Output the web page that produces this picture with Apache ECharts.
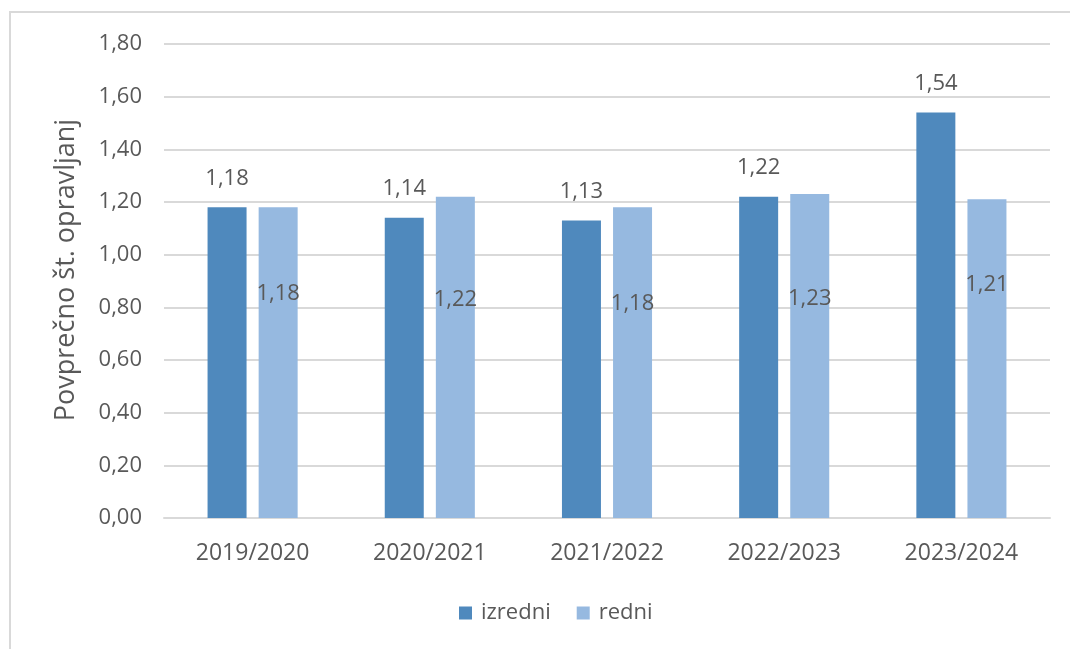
<!DOCTYPE html>
<html>
<head>
<meta charset="utf-8">
<script src="https://cdn.jsdelivr.net/npm/echarts@6/dist/echarts.min.js"></script>
<style>
    html, body { margin: 0; padding: 0; background: #fff; overflow: hidden; }
    #frame { position: absolute; left: 9px; top: 11px; width: 1200px; height: 800px; border: 2px solid #d9d9d9; box-sizing: border-box; }
    #chart { position: absolute; left: 0; top: 0; width: 1070px; height: 649px; }
</style>
</head>
<body>
<div id="frame"></div>
<div id="chart"></div>
<script>
(function(){
    var years = ['2019/2020', '2020/2021', '2021/2022', '2022/2023', '2023/2024'];
    var izredni = [1.18, 1.14, 1.13, 1.22, 1.54];
    var redni = [1.18, 1.22, 1.18, 1.23, 1.21];
    // zamik oznak za "redni" (rocno premaknjene v originalu)
    var redniLabelOffset = [86, 103, 96, 105, 85];

    var textColor = '#595959';
    var font = '"Open Sans", "Noto Sans", sans-serif';

    var chart = echarts.init(document.getElementById('chart'));

    var fmt = function (v) {
        return v.toFixed(2).replace('.', ',');
    };

    var redniData = redni.map(function (v, i) {
        return {
            value: v,
            label: { position: ['50%', redniLabelOffset[i]] }
        };
    });

    var option = {
        animation: false,
        textStyle: { fontFamily: font },
        grid: {
            left: 164,
            right: 20,
            top: 44,
            bottom: 131
        },
        legend: {
            bottom: 20,
            left: 454,
            itemWidth: 13,
            itemHeight: 13,
            itemGap: 26,
            icon: 'rect',
            data: ['izredni', 'redni'],
            textStyle: { color: textColor, fontSize: 22, fontFamily: font, padding: [0, 0, 0, 4] }
        },
        xAxis: {
            type: 'category',
            data: years,
            axisLine: { lineStyle: { color: '#d9d9d9', width: 2 } },
            axisTick: { show: false },
            axisLabel: { color: textColor, fontSize: 23, margin: 24, fontFamily: font }
        },
        yAxis: {
            type: 'value',
            min: 0,
            max: 1.8,
            interval: 0.2,
            name: 'Povprečno št. opravljanj',
            nameLocation: 'middle',
            nameGap: 84,
            nameTextStyle: { color: textColor, fontSize: 27, fontFamily: font, padding: [0, 0, 0, 22] },
            axisLine: { show: false },
            axisTick: { show: false },
            axisLabel: {
                color: textColor,
                fontSize: 22,
                margin: 22,
                fontFamily: font,
                formatter: function (v) { return fmt(v); }
            },
            splitLine: { lineStyle: { color: '#d9d9d9', width: 2 } }
        },
        series: [
            {
                name: 'izredni',
                type: 'bar',
                barWidth: 39,
                barGap: '31%',
                itemStyle: { color: '#4f89bd' },
                label: {
                    show: true,
                    position: ['50%', -29],
                    align: 'center',
                    verticalAlign: 'middle',
                    color: textColor,
                    fontSize: 22,
                    fontFamily: font,
                    formatter: function (p) { return fmt(p.value); }
                },
                data: izredni
            },
            {
                name: 'redni',
                type: 'bar',
                barWidth: 39,
                itemStyle: { color: '#96b9e0' },
                label: {
                    show: true,
                    align: 'center',
                    verticalAlign: 'middle',
                    color: textColor,
                    fontSize: 22,
                    fontFamily: font,
                    formatter: function (p) { return fmt(p.value); }
                },
                data: redniData
            }
        ]
    };

    chart.setOption(option);
})();
</script>
</body>
</html>
